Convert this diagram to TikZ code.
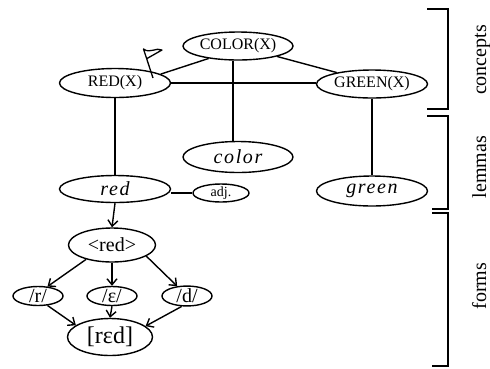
\documentclass[tikz,border=0pt]{standalone}
\usepackage{fontspec}
\setmainfont{Liberation Serif}
\newfontfamily\lemfont[LetterSpace=8]{Liberation Serif}
\usetikzlibrary{shapes.geometric,arrows.meta}
\begin{document}
\begin{tikzpicture}[x=1pt,y=-1pt,
  ell/.style={draw, ellipse, line width=1.4pt, inner sep=0pt},
  conc/.style={ell, font=\fontsize{16}{18}\selectfont},
  lem/.style={ell, font=\lemfont\itshape\fontsize{20}{22}\selectfont},
  form/.style={ell, font=\fontsize{20}{22}\selectfont},
  lnk/.style={line width=1.4pt},
  arr/.style={line width=1.4pt, -{Straight Barb[length=6pt,width=10pt,line width=1.4pt]}},
  brk/.style={line width=1.5pt},
  lab/.style={rotate=90, anchor=base, inner sep=0pt, font=\fontsize{20}{22}\selectfont}]
\useasboundingbox (0,0) rectangle (490,368);
% concepts
\node[conc, minimum width=110pt, minimum height=28pt] (colorX) at (238,46) {COLOR(X)};
\node[conc, minimum width=111pt, minimum height=29pt] (redX) at (115,83) {RED(X)};
\node[conc, minimum width=111pt, minimum height=28pt] (greenX) at (372,84) {GREEN(X)};
% lemmas
\node[lem, minimum width=110pt, minimum height=31pt] (colorw) at (238,157) {color};
\node[lem, minimum width=111pt, minimum height=27pt] (redw) at (115,189) {red};
\node[lem, minimum width=111pt, minimum height=30pt] (greenw) at (372,191) {green};
\node[ell, minimum width=56pt, minimum height=18pt, font=\fontsize{14}{16}\selectfont] (adj) at (221,193) {adj.};
% forms
\node[form, minimum width=87pt, minimum height=34pt] (spell) at (112,245) {<red>};
\node[form, minimum width=50pt, minimum height=19pt] (r) at (38,296) {/r/};
\node[form, minimum width=50pt, minimum height=19pt] (eps) at (112,296) {/ɛ/};
\node[form, minimum width=50pt, minimum height=19pt] (d) at (187,296) {/d/};
\node[ell, minimum width=85pt, minimum height=37pt, font=\fontsize{24}{26}\selectfont] (rtd) at (110,337) {[rɛd]};
% concept links
\draw[lnk] (redX.11) -- (colorX.203);
\draw[lnk] (colorX.345) -- (greenX.162);
\draw[lnk] (redX.east) -- (greenX.west |- redX.east);
\draw[lnk] ([xshift=-5pt]colorX.south) -- ([xshift=-5pt]colorw.north);
\draw[lnk] (redX.south) -- (redw.north);
\draw[lnk] (greenX.south) -- (greenw.north);
\draw[lnk] (redw.east |- adj.west) -- (adj.west);
% form arrows
\draw[arr] (redw.south) -- (spell.north);
\draw[arr] (spell.209) -- (r.45);
\draw[arr] (spell.south) -- (eps.north);
\draw[arr] (spell.342) -- (d.135);
\draw[arr] (r.315) -- (rtd.161);
\draw[arr] (eps.south) -- (rtd.north);
\draw[arr] (d.243) -- (rtd.17);
% flag
\coordinate (flagbase) at (153,78);
\coordinate (flagtop) at (143.5,49);
\draw[line width=1.3pt, line join=round] (flagbase) -- (flagtop)
  .. controls (150,54) and (156,47) .. (162,50) -- (147,58.5);
% brackets
\draw[brk] (427,9) -- (448,9) -- (448,109) -- (427,109);
\draw[brk] (427,116) -- (448,116) -- (448,209) -- (432,209);
\draw[brk] (432,213) -- (448,213) -- (448,366) -- (432,366);
\node[lab] (lconc) at (486,60) {concepts};
\node[lab] (llem) at (486,167) {lemmas};
\node[lab] (lform) at (486,286) {forms};
\end{tikzpicture}
\end{document}
